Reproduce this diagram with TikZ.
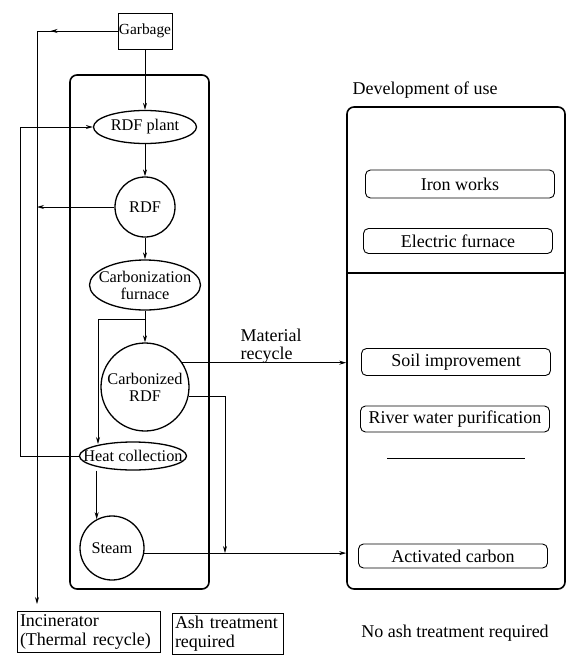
\documentclass[tikz,border=0pt]{standalone}
\usepackage{fontspec}
\setmainfont{Liberation Serif}
\usetikzlibrary{shapes.geometric, arrows.meta}
\tikzstyle{process} = [ellipse, draw=black, line width=1.3pt, inner sep=0pt, text centered, font=\fontsize{16.3}{17}\selectfont]
\tikzstyle{product} = [circle, draw=black, line width=1.3pt, inner sep=0pt, align=center, font=\fontsize{16.3}{17}\selectfont]
\tikzstyle{outlet} = [rectangle, draw=black, line width=0.8pt, align=left, inner sep=3pt]
\tikzstyle{application} = [rectangle, rounded corners=5pt, draw=black, line width=0.9pt, minimum width=189pt, text centered, inner sep=0pt]
\tikzstyle{panel} = [rectangle, rounded corners=7pt, draw=black, line width=1.6pt]
\tikzstyle{arrow} = [line width=0.8pt, -{Stealth[length=7pt,width=4pt]}]
\tikzstyle{line} = [line width=0.8pt]

\begin{document}
\begin{tikzpicture}[x=1pt, y=-1pt, font=\fontsize{18}{18.5}\selectfont]
	\useasboundingbox (0,0) rectangle (568,656);

	\node (plantpanel) [panel, minimum width=139pt, minimum height=514pt] at (139.5,332) {};
	\node (usepanel) [panel, minimum width=218pt, minimum height=482pt] at (456,348) {};

	\node (garbage) [outlet, align=center, inner sep=1pt, minimum width=53pt, minimum height=36pt, font=\fontsize{15.4}{16}\selectfont] at (145,31) {Garbage};
	\node (rdfplant) [process, minimum width=103pt, minimum height=33pt] at (145,127) {RDF plant};
	\node (rdf) [product, minimum size=60pt] at (145,207) {RDF};
	\node (furnace) [process, inner xsep=-8pt, inner ysep=1pt, minimum width=111pt, minimum height=50pt, align=center] at (145,285) {Carbonization\\furnace};
	\node (carbonized) [product, minimum size=88pt] at (145,387) {Carbonized\\RDF};
	\node (heat) [process, inner xsep=-12pt, inner ysep=2pt, minimum width=107pt, minimum height=28pt] at (133,456) {Heat collection};
	\node (steam) [product, minimum size=64pt] at (112,548) {Steam};

	\node (incin) [outlet, minimum width=143pt, minimum height=40pt, text width=137pt] at (88.5,632) {Incinerator\\(Thermal recycle)};
	\node (ash) [outlet, minimum width=111pt, minimum height=37pt, text width=105pt] at (227.5,633.5) {Ash treatment\\required};
	\node (noash) at (455,633) {No ash treatment required};

	\node (devuse) at (425,90) {Development of use};
	\node (iron) [application, minimum height=28pt] at (460,184) {Iron works};
	\node (electric) [application, minimum height=25pt] at (458,241) {Electric furnace};
	\node (soil) [application, minimum height=27pt] at (456,362) {Soil improvement};
	\node (river) [application, minimum height=26pt] at (455,419) {River water purification};
	\node (activated) [application, minimum height=24pt] at (453,556) {Activated carbon};
	\node (matrec) [anchor=west, align=left] at (237,346) {Material\\recycle};

	\coordinate (divide) at (456,273);
	\draw [line width=1.2pt] (divide -| usepanel.west) -- (divide -| usepanel.east);
	\draw [line] (387,458) -- (525,458);

	\coordinate (split) at (145,319);
	\coordinate (heatin) at (98,444);
	\coordinate (drop) at (225,553);
	\coordinate (thermal) at (37,612);

	\draw [arrow] (garbage) -- (rdfplant);
	\draw [arrow] (rdfplant) -- (rdf);
	\draw [arrow] (rdf) -- (furnace);
	\draw [arrow] (furnace) -- (carbonized);
	\draw [arrow] (split) -| (heatin);
	\draw [arrow] (steam.118 |- heat.south) -- (steam.118);
	\draw [arrow] (heat.west) -- ++(-58,0) |- (rdfplant.west);

	\draw [arrow] (garbage.west) -- ++(-67,0);
	\draw [arrow, shorten >=8pt] (garbage.west) -| (thermal);
	\draw [arrow] (rdf.west) -- (rdf.west -| thermal);

	\draw [arrow] (carbonized.33) -- (carbonized.33 -| usepanel.west);
	\draw [arrow] (carbonized.-12) -| (drop);
	\draw [arrow] (steam.-9) -- (steam.-9 -| usepanel.west);

\end{tikzpicture}
\end{document}
